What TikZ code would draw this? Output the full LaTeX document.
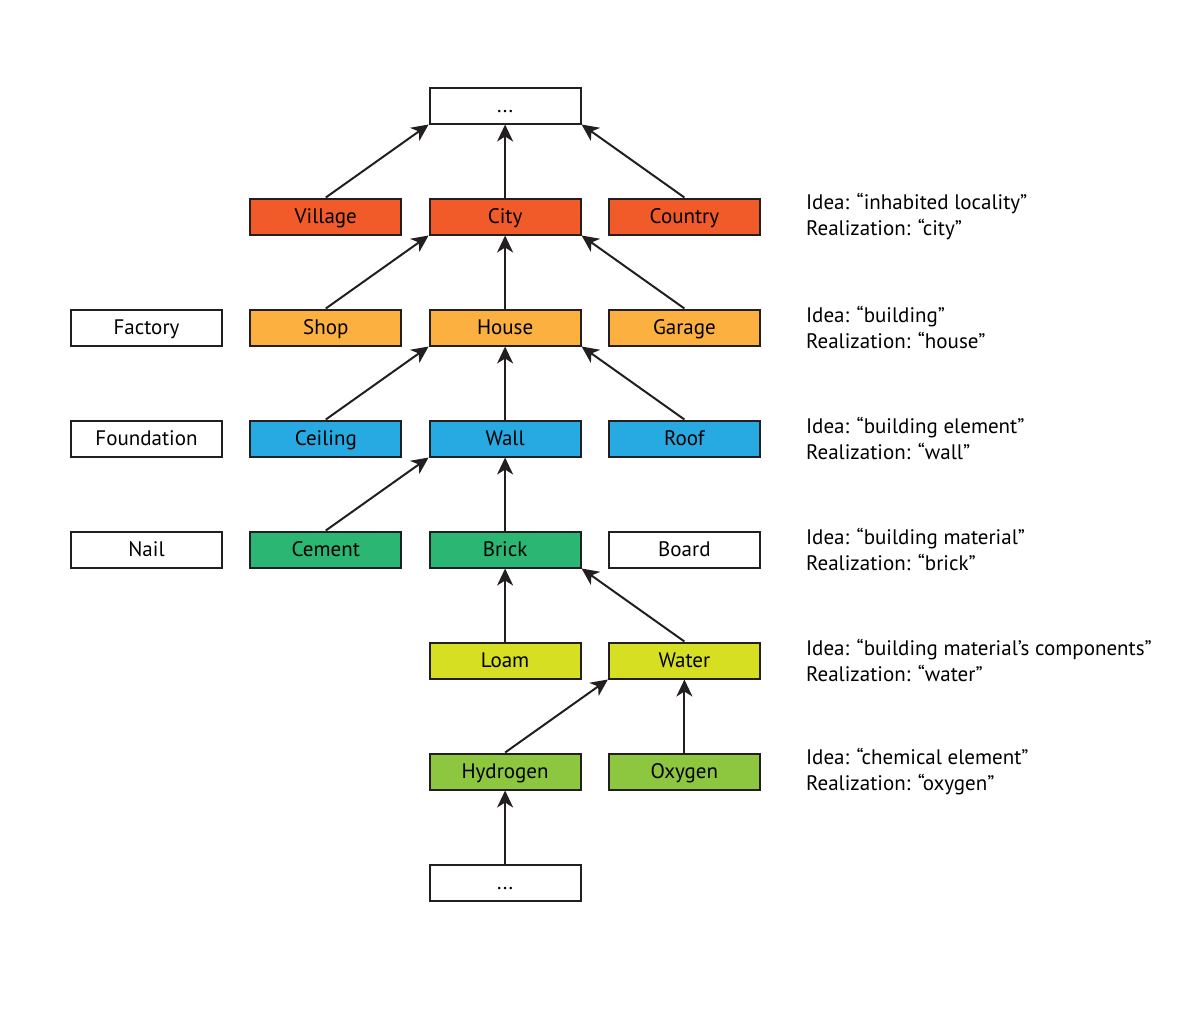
\documentclass[tikz,border=0pt]{standalone}
\usepackage{fontspec}
\setmainfont{PT Sans}
\definecolor{inkline}{RGB}{35,31,32}
\definecolor{localred}{RGB}{241,90,41}
\definecolor{buildorange}{RGB}{251,176,64}
\definecolor{elemblue}{RGB}{39,170,225}
\definecolor{matgreen}{RGB}{43,182,115}
\definecolor{complime}{RGB}{215,223,35}
\definecolor{chemgreen}{RGB}{141,198,63}
\usetikzlibrary{arrows.meta,positioning}

\begin{document}
\begin{tikzpicture}[
      box/.style={draw=inkline,line width=2pt,fill=white,inner sep=0pt,
                  minimum width=151pt,minimum height=36pt,
                  text height=18pt,text depth=3.5pt,
                  font=\fontsize{21}{25}\selectfont},
      lbl/.style={align=left,inner sep=0pt,font=\fontsize{21}{26}\selectfont},
      up/.style={draw=inkline,line width=2pt,
                 -{Stealth[length=17pt,width=16pt,inset=5pt]}},
      x=179.3pt,y=-111pt]
    \useasboundingbox (-0.8171,-0.9505) rectangle (5.8756,8.1577);
    \node[box] (top) at (2,0) {...};
    \node[box,fill=localred] (village) at (1,1) {Village};
    \node[box,fill=localred] (city) at (2,1) {City};
    \node[box,fill=localred] (country) at (3,1) {Country};
    \node[box] (factory) at (0,2) {Factory};
    \node[box,fill=buildorange] (shop) at (1,2) {Shop};
    \node[box,fill=buildorange] (house) at (2,2) {House};
    \node[box,fill=buildorange] (garage) at (3,2) {Garage};
    \node[box] (foundation) at (0,3) {Foundation};
    \node[box,fill=elemblue] (ceiling) at (1,3) {Ceiling};
    \node[box,fill=elemblue] (wall) at (2,3) {Wall};
    \node[box,fill=elemblue] (roof) at (3,3) {Roof};
    \node[box] (nail) at (0,4) {Nail};
    \node[box,fill=matgreen] (cement) at (1,4) {Cement};
    \node[box,fill=matgreen] (brick) at (2,4) {Brick};
    \node[box] (board) at (3,4) {Board};
    \node[box,fill=complime] (loam) at (2,5) {Loam};
    \node[box,fill=complime] (water) at (3,5) {Water};
    \node[box,fill=chemgreen] (hydrogen) at (2,6) {Hydrogen};
    \node[box,fill=chemgreen] (oxygen) at (3,6) {Oxygen};
    \node[box] (bottom) at (2,7) {...};
    % ideas and realizations
    \node[lbl,right=45pt of country] {Idea: “inhabited locality”\\Realization: “city”};
    \node[lbl,right=45pt of garage] {Idea: “building”\\Realization: “house”};
    \node[lbl,right=45pt of roof] {Idea: “building element”\\Realization: “wall”};
    \node[lbl,right=45pt of board] {Idea: “building material”\\Realization: “brick”};
    \node[lbl,right=45pt of water] {Idea: “building material’s components”\\Realization: “water”};
    \node[lbl,right=45pt of oxygen] {Idea: “chemical element”\\Realization: “oxygen”};
    % arrows
    \draw[up] (village.north) -- (top.south west);
    \draw[up] (city.north) -- (top.south);
    \draw[up] (country.north) -- (top.south east);
    \draw[up] (shop.north) -- (city.south west);
    \draw[up] (house.north) -- (city.south);
    \draw[up] (garage.north) -- (city.south east);
    \draw[up] (ceiling.north) -- (house.south west);
    \draw[up] (wall.north) -- (house.south);
    \draw[up] (roof.north) -- (house.south east);
    \draw[up] (cement.north) -- (wall.south west);
    \draw[up] (brick.north) -- (wall.south);
    \draw[up] (loam.north) -- (brick.south);
    \draw[up] (water.north) -- (brick.south east);
    \draw[up] (hydrogen.north) -- (water.south west);
    \draw[up] (oxygen.north) -- (water.south);
    \draw[up] (bottom.north) -- (hydrogen.south);
  \end{tikzpicture}
\end{document}
